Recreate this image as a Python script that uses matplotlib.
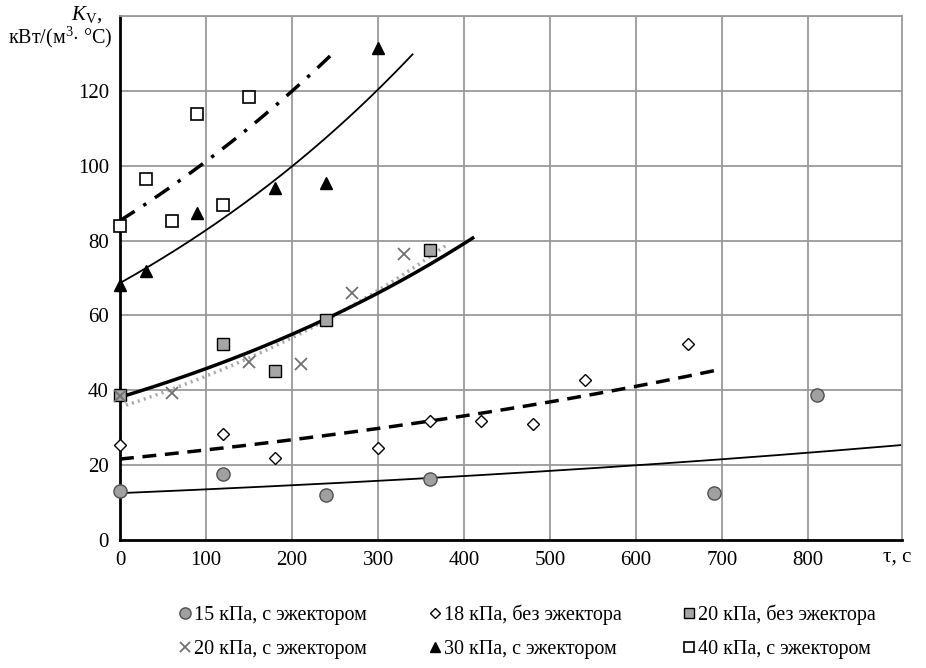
import numpy as np
import matplotlib
matplotlib.use('Agg')
import matplotlib.pyplot as plt
from matplotlib.lines import Line2D

plt.rcParams['font.family'] = ['Liberation Serif', 'DejaVu Serif']
plt.rcParams['mathtext.fontset'] = 'custom'
plt.rcParams['mathtext.rm'] = 'Liberation Serif'
plt.rcParams['mathtext.it'] = 'Liberation Serif:italic'

# 15 kPa, with ejector
t15 = [0, 120, 240, 360, 690, 810]
k15 = [13.0, 17.7, 12.0, 16.2, 12.5, 38.7]
# 18 kPa, no ejector
t18 = [0, 120, 180, 300, 360, 420, 480, 540, 660]
k18 = [25.5, 28.3, 22.0, 24.5, 31.8, 31.8, 31.0, 42.7, 52.3]
# 20 kPa, no ejector
t20n = [0, 120, 180, 240, 360]
k20n = [38.8, 52.3, 45.2, 58.8, 77.5]
# 20 kPa, with ejector
t20e = [0, 60, 150, 210, 270, 330]
k20e = [38.5, 39.3, 47.5, 47.0, 66.0, 76.5]
# 30 kPa, with ejector
t30 = [0, 30, 90, 180, 240, 300]
k30 = [68.0, 72.0, 87.3, 94.0, 95.5, 131.5]
# 40 kPa, with ejector
t40 = [0, 30, 60, 90, 120, 150]
k40 = [83.8, 96.5, 85.2, 113.8, 89.5, 118.3]

labels = ['15 кПа, с эжектором', '18 кПа, без эжектора', '20 кПа, без эжектора',
          '20 кПа, с эжектором', '30 кПа, с эжектором', '40 кПа, с эжектором']
# trendline end (s)
trend_end = [910, 700, 410, 380, 340, 250]


def exp_trend(t, k, t_end):
    b, a = np.polyfit(t, np.log(k), 1)
    x = np.linspace(0, t_end, 200)
    return x, np.exp(a + b * x)


fig = plt.figure(figsize=(9.26, 6.68), dpi=100)
ax = fig.add_axes([120 / 926, 1 - 540 / 668, 782 / 926, 524 / 668])

grid_c = '#9a9a9a'
ax.set_xlim(0, 909)
ax.set_ylim(0, 140)
ax.set_xticks(range(0, 900, 100))
ax.set_yticks(range(0, 140, 20))
for x in range(100, 900, 100):
    ax.axvline(x, color=grid_c, lw=1.3, zorder=0)
for y in range(20, 141, 20):
    ax.axhline(y, color=grid_c, lw=1.3, zorder=0)
ax.tick_params(length=0, labelsize=15, pad=8)
for s in ['left', 'bottom']:
    ax.spines[s].set_color('black')
    ax.spines[s].set_linewidth(2)
for s in ['top', 'right']:
    ax.spines[s].set_color(grid_c)
    ax.spines[s].set_linewidth(1.3)

# trend lines
x, y = exp_trend(t15, k15, trend_end[0])
ax.plot(x, y, color='black', lw=1.3, zorder=2)
x, y = exp_trend(t18, k18, trend_end[1])
ax.plot(x, y, color='black', lw=2.5, dashes=(4, 2.5), zorder=2)
x, y = exp_trend(t20e, k20e, trend_end[3])
ax.plot(x, y, color='#aaaaaa', lw=2.5, dashes=(0.6, 1.2), zorder=2)
x, y = exp_trend(t20n, k20n, trend_end[2])
ax.plot(x, y, color='black', lw=2.5, zorder=2)
x, y = exp_trend(t30, k30, trend_end[4])
ax.plot(x, y, color='black', lw=1.3, zorder=2)
x, y = exp_trend(t40, k40, trend_end[5])
ax.plot(x, y, color='black', lw=2.5, dashes=(5, 3, 1, 3), zorder=2)

styles = [
    dict(marker='o', ms=9.5, mfc='#a0a0a0', mec='#505050', mew=1),
    dict(marker='D', ms=6.5, mfc='white', mec='black', mew=1),
    dict(marker='s', ms=8.5, mfc='#a6a6a6', mec='black', mew=1),
    dict(marker='x', ms=9, mec='#707070', mew=1.3),
    dict(marker='^', ms=9, mfc='black', mec='black', mew=1),
    dict(marker='s', ms=9, mfc='white', mec='black', mew=1.2),
]
series = [(t15, k15), (t18, k18), (t20n, k20n), (t20e, k20e), (t30, k30), (t40, k40)]
handles = []
for (t, k), st, lab in zip(series, styles, labels):
    ax.plot(t, k, ls='none', clip_on=False, zorder=3, **st)
    handles.append(Line2D([], [], ls='none', label=lab, **st))

order = [0, 3, 1, 4, 2, 5]
fig.legend([handles[i] for i in order], [labels[i] for i in order],
           loc='center', bbox_to_anchor=(0.569, 0.054), ncol=3, frameon=False,
           fontsize=14.5, handletextpad=0.1, columnspacing=3.0, handlelength=0.7,
           labelspacing=0.75, markerscale=0.85)

fig.text(87 / 926, 1 - 15 / 668, r'$K_{\mathrm{V}}$,', fontsize=15, ha='center', va='center')
fig.text(60 / 926, 1 - 37 / 668, r'кВт/(м$^{3}$$\cdot$ °C)', fontsize=14.5, ha='center', va='center')
fig.text(897 / 926, 1 - 557 / 668, 'τ, с', fontsize=15, ha='center', va='center')

fig.savefig('out.png', dpi=100)
